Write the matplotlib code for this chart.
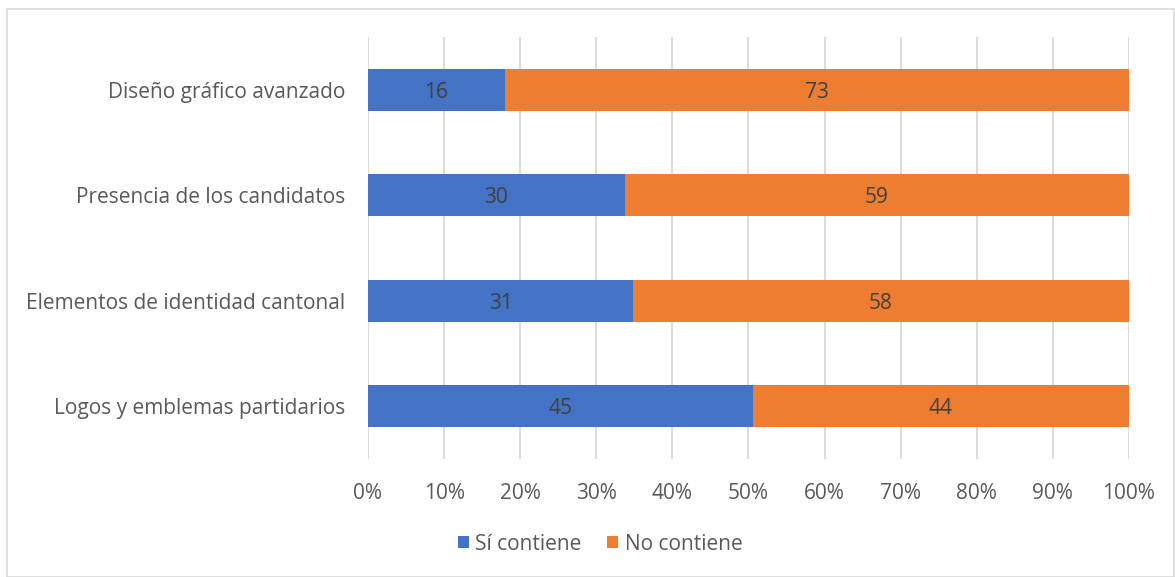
import numpy as np
import matplotlib
matplotlib.use("Agg")
import matplotlib.pyplot as plt
from matplotlib.patches import Rectangle

# Data (counts)
categories = ["Logos y emblemas partidarios", "Elementos de identidad cantonal",
              "Presencia de los candidatos", "Diseño gráfico avanzado"]
si_contiene = [45, 31, 30, 16]
no_contiene = [44, 58, 59, 73]
series_names = ["Sí contiene", "No contiene"]
tick_labels = ["0%", "10%", "20%", "30%", "40%", "50%", "60%", "70%", "80%", "90%", "100%"]

plt.rcParams["font.family"] = ["Open Sans", "DejaVu Sans"]
text_color = "#595959"
fs = 15

si = np.array(si_contiene, dtype=float)
no = np.array(no_contiene, dtype=float)
total = si + no
si_pct = si / total * 100
no_pct = no / total * 100

fig = plt.figure(figsize=(11.75, 5.77), dpi=100)
ax = fig.add_axes([368 / 1175, 1 - 459 / 577, (1129 - 368) / 1175, (459 - 37) / 577])

y = np.arange(len(categories))
b1 = ax.barh(y, si_pct, height=0.4, color="#4472C4", label=series_names[0], zorder=3)
b2 = ax.barh(y, no_pct, left=si_pct, height=0.4, color="#ED7D31", label=series_names[1], zorder=3)

for rect, v in zip(b1, si_contiene):
    ax.text(rect.get_x() + rect.get_width() / 2, rect.get_y() + rect.get_height() / 2,
            str(v), ha="center", va="center_baseline", fontsize=fs, color="#404040", zorder=4)
for rect, v in zip(b2, no_contiene):
    ax.text(rect.get_x() + rect.get_width() / 2, rect.get_y() + rect.get_height() / 2,
            str(v), ha="center", va="center_baseline", fontsize=fs, color="#404040", zorder=4)

ax.set_xlim(0, 100)
ax.set_ylim(-0.5, len(categories) - 0.5)
ax.set_xticks(np.arange(0, 101, 10))
ax.set_xticklabels(tick_labels)
ax.set_yticks(y)
ax.set_yticklabels(categories)
ax.tick_params(axis="both", length=0, labelsize=fs, colors=text_color)
ax.tick_params(axis="x", pad=17)
ax.tick_params(axis="y", pad=16.5)
ax.xaxis.grid(True, color="#D9D9D9", linewidth=1.3, zorder=0)
for s in ax.spines.values():
    s.set_visible(False)

leg = fig.legend(handles=[b1, b2], labels=series_names, loc="center",
                 bbox_to_anchor=(600 / 1175, 1 - 544 / 577), ncol=2, frameon=False,
                 fontsize=fs, handlelength=0.55, handleheight=0.55, handletextpad=0.3,
                 columnspacing=1.2)
for t in leg.get_texts():
    t.set_color(text_color)

# outer chart border
fig.patches.append(Rectangle((7 / 1175, 0), 1 - 8 / 1175, 1 - 9 / 577,
                             transform=fig.transFigure, fill=False,
                             edgecolor="#D9D9D9", linewidth=1.2))

fig.savefig("out.png", dpi=100)
